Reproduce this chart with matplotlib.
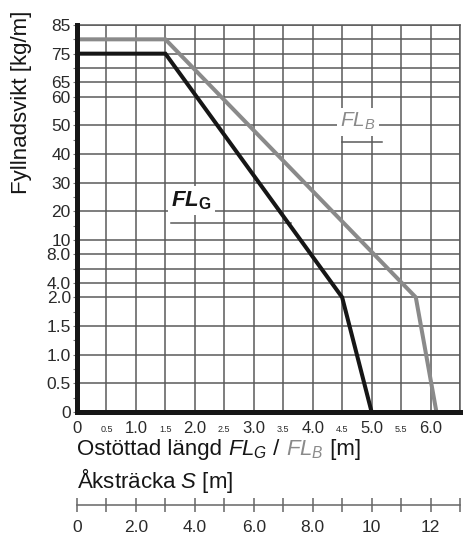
import numpy as np
import matplotlib
matplotlib.use('Agg')
import matplotlib.pyplot as plt

plt.rcParams['font.family'] = ['Liberation Sans', 'DejaVu Sans']
plt.rcParams['mathtext.fontset'] = 'custom'
plt.rcParams['mathtext.rm'] = 'Liberation Sans'
plt.rcParams['mathtext.it'] = 'Liberation Sans:italic'
plt.rcParams['mathtext.bf'] = 'Liberation Sans:bold'
plt.rcParams['mathtext.bfit'] = 'Liberation Sans:italic:bold'

# unsupported length [m] and fill weight [kg/m]
fl_g_len = [0, 1.5, 4.5, 5.0]
fl_g_weight = [75, 75, 2.0, 0]
fl_b_len = [0, 1.5, 5.75, 6.1]
fl_b_weight = [80, 80, 2.0, 0]

# the y axis is stretched in pieces: anchor values and their grid steps
y_anchor_vals = [0, 0.5, 1.0, 1.5, 2.0, 4.0, 6.0, 8.0, 10, 15, 20, 25, 30, 35, 40,
                 45, 50, 55, 60, 65, 70, 75, 80, 85]
y_anchor_steps = [0, 2, 4, 6, 8, 9, 10, 11, 12, 13, 14, 15, 16, 17, 18,
                  19, 20, 21, 22, 23, 24, 25, 26, 27]
y_tick_vals = [0, 0.5, 1.0, 1.5, 2.0, 4.0, 8.0, 10, 20, 30, 40, 50, 60, 65, 75, 85]
y_tick_labels = ['0', '0.5', '1.0', '1.5', '2.0', '4.0', '8.0', '10', '20', '30',
                 '40', '50', '60', '65', '75', '85']
y_grid_vals = [0.5, 1.0, 1.5, 2.0, 4.0, 6.0, 8.0, 10, 20, 30, 40, 50, 60, 65, 70, 75, 80, 85]
y_minor_vals = [0.25, 0.75, 1.25, 1.75, 6.0, 15, 25, 35, 45, 55, 70, 80]

x_major = [0, 1, 2, 3, 4, 5, 6]
x_major_labels = ['0', '1.0', '2.0', '3.0', '4.0', '5.0', '6.0']
x_minor = [0.5, 1.5, 2.5, 3.5, 4.5, 5.5]
x_minor_labels = ['0.5', '1.5', '2.5', '3.5', '4.5', '5.5']

s_ticks = list(range(0, 14))
s_label_ticks = [0, 2, 4, 6, 8, 10, 12]
s_labels = ['0', '2.0', '4.0', '6.0', '8.0', '10', '12']

grid_color = '#5a5a5a'
black = '#161616'
gray = '#8a8a8a'
W, H = 472, 540


def fwd(v):
    return np.interp(v, y_anchor_vals, y_anchor_steps)


def inv(p):
    return np.interp(p, y_anchor_steps, y_anchor_vals)


fig = plt.figure(figsize=(W / 100, H / 100), dpi=100)
ax = fig.add_axes([77 / W, 1 - 412 / H, 383 / W, 387 / H])
ax.set_yscale('function', functions=(fwd, inv))
ax.set_xlim(0, 6.5)
ax.set_ylim(0, 85)

for v in y_grid_vals:
    ax.axhline(v, color=grid_color, lw=1.1, zorder=1)
for v in np.arange(0.5, 6.6, 0.5):
    ax.axvline(v, color=grid_color, lw=1.1, zorder=1)

ax.plot(fl_b_len, fl_b_weight, color=gray, lw=2.9, zorder=4, solid_joinstyle='miter')
ax.plot(fl_g_len, fl_g_weight, color=black, lw=2.9, zorder=5, solid_joinstyle='miter')

ax.set_yticks(y_tick_vals)
ax.set_yticklabels(y_tick_labels)
ax.set_yticks(y_minor_vals, minor=True)
ax.tick_params(axis='y', which='both', direction='out', length=3, width=0.8,
               color='#777777', pad=1.5, labelsize=12.5, labelcolor='#2a2a2a')

ax.set_xticks(x_major)
ax.set_xticklabels(x_major_labels)
ax.set_xticks(x_minor, minor=True)
ax.set_xticklabels(x_minor_labels, minor=True)
ax.tick_params(axis='x', which='major', length=0, pad=6.5, labelsize=12, labelcolor='#2a2a2a')
ax.tick_params(axis='x', which='minor', length=0, pad=9.5, labelsize=6.5, labelcolor='#2a2a2a')

for side in ['left', 'bottom']:
    ax.spines[side].set_linewidth(3.6)
    ax.spines[side].set_color(black)
    ax.spines[side].set_zorder(6)
for side in ['top', 'right']:
    ax.spines[side].set_linewidth(1.1)
    ax.spines[side].set_color(grid_color)

# curve labels with white boxes and underlines
ax.text(0.246, 0.532, r'$\mathbfit{FL}_{\mathbf{G}}$', transform=ax.transAxes,
        fontsize=16, color=black, va='baseline', ha='left', zorder=3,
        bbox=dict(facecolor='white', edgecolor='none', pad=2.5))
ax.plot([0.246, 0.56], [0.489, 0.489], transform=ax.transAxes, color=grid_color, lw=1.1, zorder=3)
ax.text(0.687, 0.736, r'$\mathit{FL}_{B}$', transform=ax.transAxes,
        fontsize=15, color=gray, va='baseline', ha='left', zorder=3,
        bbox=dict(facecolor='white', edgecolor='none', pad=2.5))
ax.plot([0.693, 0.797], [0.698, 0.698], transform=ax.transAxes, color=grid_color, lw=1.1, zorder=3)

fig.text(22 / W, 1 - 102 / H, 'Fyllnadsvikt [kg/m]', rotation=90, ha='center', va='center',
         fontsize=16, color=black)

# x label in pieces so FL_B can be gray
renderer = fig.canvas.get_renderer()
pieces = [('Ostöttad längd ', black), (r'$\mathit{FL}_{G}$', black), (' / ', black),
          (r'$\mathit{FL}_{B}$', gray), (' [m]', black)]
xpos = 77
for s, c in pieces:
    t = fig.text(xpos / W, 1 - 455 / H, s, color=c, fontsize=16, va='baseline', ha='left')
    xpos = t.get_window_extent(renderer).x1

fig.text(77 / W, 1 - 488 / H, r'Åksträcka $\mathit{S}$ [m]', color=black, fontsize=16,
         va='baseline', ha='left')

# second scale for the axle distance S
ax2 = fig.add_axes([77 / W, 1 - 505 / H, 383 / W, 0.0001])
ax2.set_facecolor('none')
ax2.set_xlim(0, 13)
ax2.set_yticks([])
for side in ['left', 'right', 'top']:
    ax2.spines[side].set_visible(False)
ax2.spines['bottom'].set_color('#666666')
ax2.spines['bottom'].set_linewidth(1.1)
ax2.set_xticks(s_ticks)
ax2.set_xticklabels([s_labels[s_label_ticks.index(v)] if v in s_label_ticks else '' for v in s_ticks])
ax2.tick_params(axis='x', direction='inout', length=10, width=1.1, color='#666666',
                pad=5.5, labelsize=12.5, labelcolor='#2a2a2a')

fig.savefig('out.png', dpi=100, facecolor='white')
